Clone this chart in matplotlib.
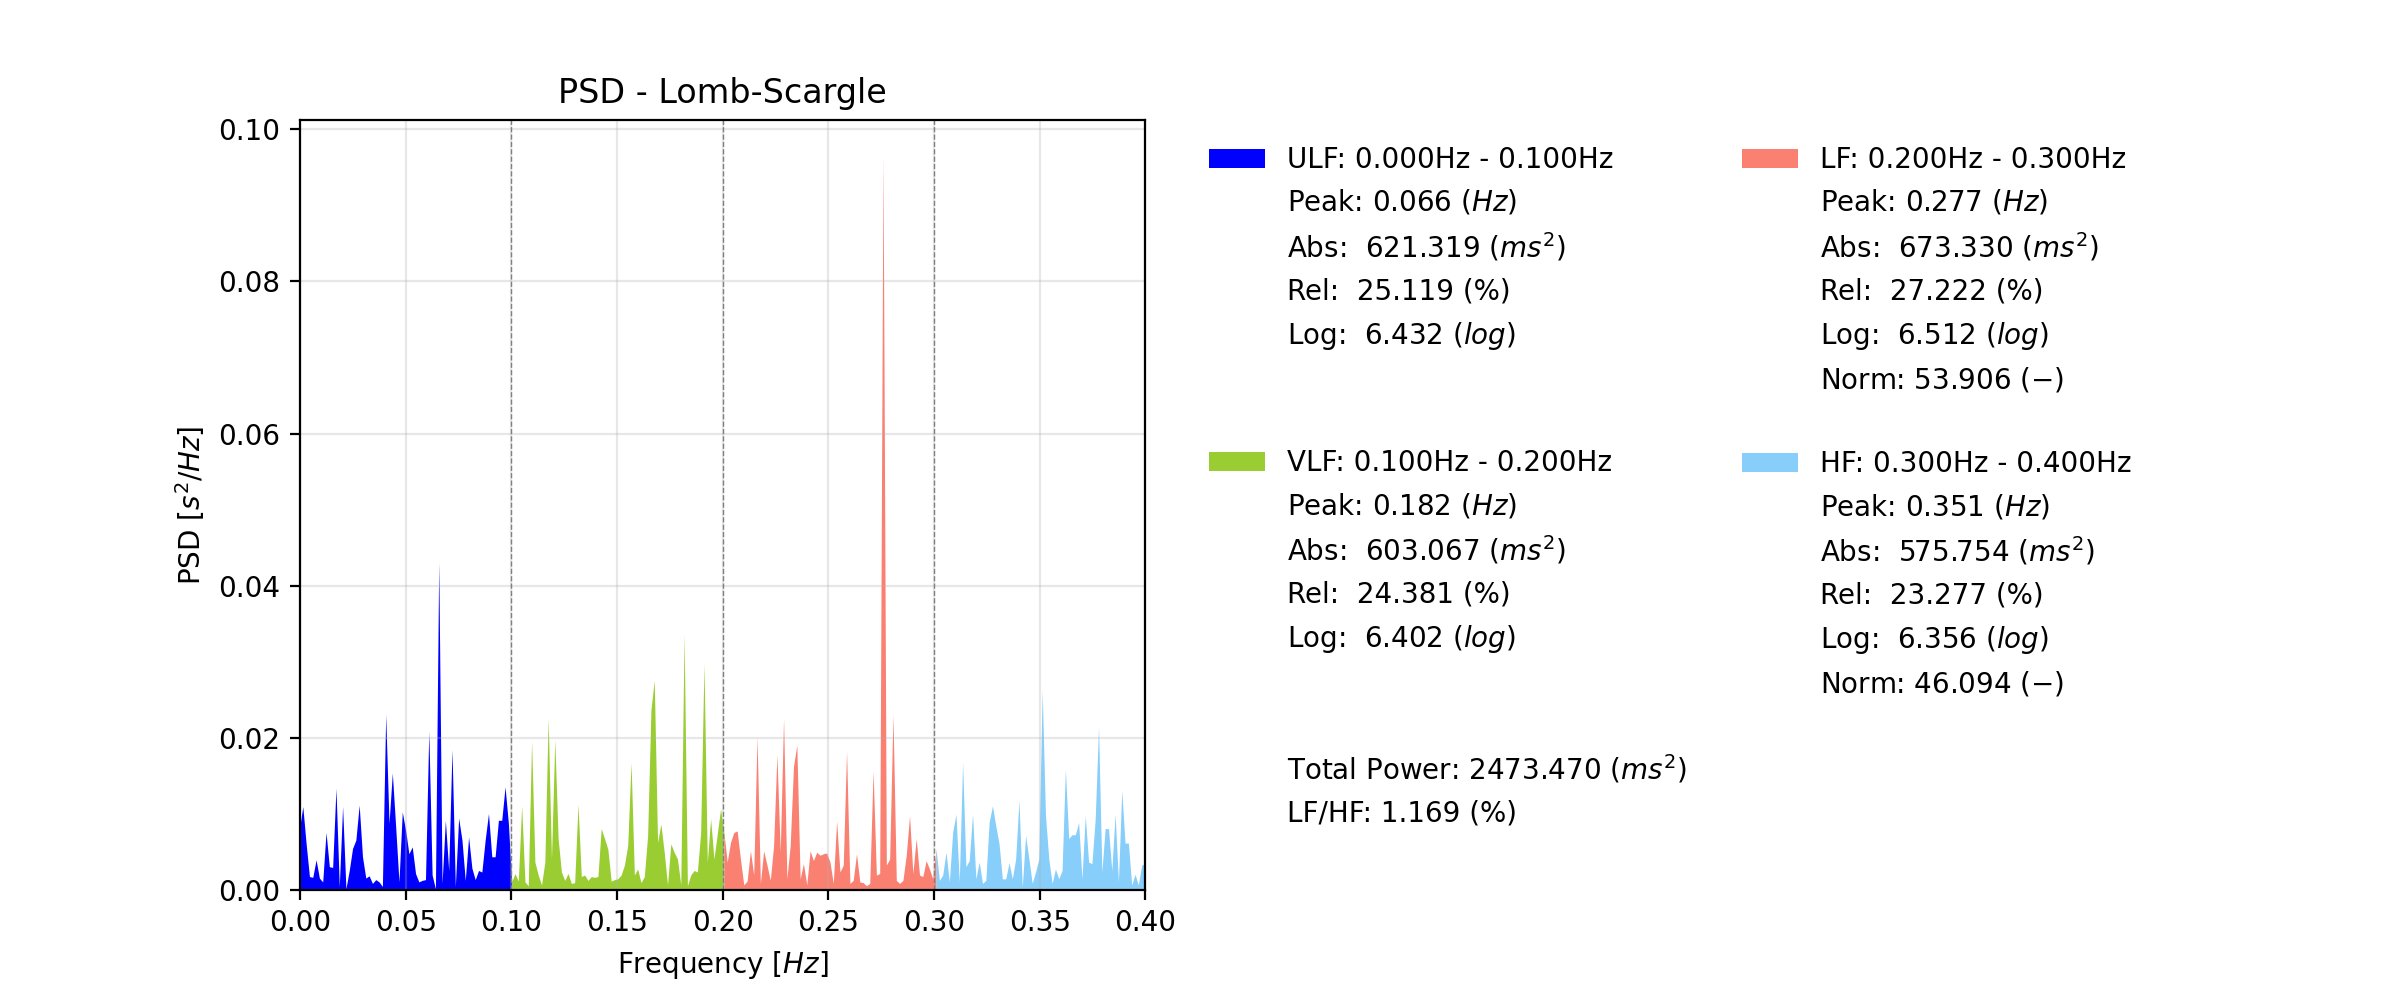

# PSD - Lomb-Scargle plot with frequency bands and band parameters in the legend

import numpy as np
import matplotlib.pyplot as plt
from matplotlib.patches import Patch


#%% 1) Data

# frequency bands
bands = ['ULF', 'VLF', 'LF', 'HF']
band_limits = [(0.0, 0.1), (0.1, 0.2), (0.2, 0.3), (0.3, 0.4)]
band_colors = ['b', 'yellowgreen', 'salmon', 'lightskyblue']

# number of frequency samples between 0 and 0.4 Hz
n_freq = 256

# PSD values (s^2/Hz), 64 samples per band
ulf_psd = [0.0080, 0.0109, 0.0060, 0.0017, 0.0016, 0.0039, 0.0015, 0.0010, 0.0075, 0.0030,
           0.0029, 0.0133, 0.0004, 0.0109, 0.0001, 0.0025, 0.0054, 0.0065, 0.0111, 0.0043,
           0.0015, 0.0018, 0.0008, 0.0013, 0.0010, 0.0004, 0.0230, 0.0087, 0.0153, 0.0083,
           0.0010, 0.0102, 0.0078, 0.0047, 0.0056, 0.0021, 0.0010, 0.0012, 0.0013, 0.0208,
           0.0019, 0.0001, 0.0430, 0.0008, 0.0091, 0.0025, 0.0184, 0.0004, 0.0094, 0.0065,
           0.0012, 0.0069, 0.0028, 0.0013, 0.0025, 0.0023, 0.0065, 0.0100, 0.0043, 0.0043,
           0.0091, 0.0091, 0.0135, 0.0087]
vlf_psd = [0.0010, 0.0021, 0.0011, 0.0110, 0.0010, 0.0005, 0.0195, 0.0036, 0.0019, 0.0006,
           0.0036, 0.0225, 0.0040, 0.0197, 0.0067, 0.0023, 0.0012, 0.0021, 0.0008, 0.0009,
           0.0112, 0.0017, 0.0019, 0.0012, 0.0017, 0.0016, 0.0017, 0.0080, 0.0067, 0.0053,
           0.0011, 0.0013, 0.0014, 0.0019, 0.0032, 0.0058, 0.0167, 0.0019, 0.0027, 0.0009,
           0.0017, 0.0071, 0.0236, 0.0275, 0.0062, 0.0086, 0.0049, 0.0006, 0.0060, 0.0049,
           0.0040, 0.0006, 0.0336, 0.0005, 0.0019, 0.0025, 0.0023, 0.0075, 0.0297, 0.0036,
           0.0093, 0.0040, 0.0073, 0.0106]
lf_psd = [0.0075, 0.0036, 0.0062, 0.0075, 0.0077, 0.0040, 0.0006, 0.0011, 0.0051, 0.0019,
          0.0201, 0.0008, 0.0051, 0.0032, 0.0012, 0.0058, 0.0177, 0.0049, 0.0225, 0.0014,
          0.0058, 0.0162, 0.0190, 0.0014, 0.0034, 0.0006, 0.0051, 0.0038, 0.0049, 0.0045,
          0.0047, 0.0048, 0.0036, 0.0008, 0.0090, 0.0023, 0.0032, 0.0182, 0.0008, 0.0012,
          0.0047, 0.0010, 0.0009, 0.0005, 0.0008, 0.0156, 0.0019, 0.0021, 0.0964, 0.0032,
          0.0040, 0.0230, 0.0012, 0.0008, 0.0012, 0.0045, 0.0097, 0.0021, 0.0067, 0.0019,
          0.0017, 0.0038, 0.0027, 0.0014]
hf_psd = [0.0053, 0.0012, 0.0019, 0.0049, 0.0010, 0.0075, 0.0099, 0.0010, 0.0167, 0.0030,
          0.0038, 0.0099, 0.0014, 0.0036, 0.0008, 0.0012, 0.0088, 0.0110, 0.0084, 0.0060,
          0.0014, 0.0014, 0.0035, 0.0014, 0.0040, 0.0117, 0.0003, 0.0071, 0.0040, 0.0008,
          0.0023, 0.0040, 0.0262, 0.0097, 0.0040, 0.0008, 0.0027, 0.0014, 0.0025, 0.0158,
          0.0067, 0.0072, 0.0072, 0.0088, 0.0014, 0.0097, 0.0036, 0.0034, 0.0093, 0.0214,
          0.0023, 0.0080, 0.0080, 0.0025, 0.0099, 0.0010, 0.0130, 0.0061, 0.0061, 0.0006,
          0.0020, 0.0006, 0.0032, 0.0034]

# band parameters shown in the legend
peak_hz = [0.066, 0.182, 0.277, 0.351]
abs_ms2 = [621.319, 603.067, 673.330, 575.754]
rel_pct = [25.119, 24.381, 27.222, 23.277]
log_pow = [6.432, 6.402, 6.512, 6.356]
norm_lf = 53.906
norm_hf = 46.094
total_power = 2473.470
lf_hf = 1.169


#%% 2) Arrange the data

freq = np.linspace(0, 0.4, n_freq)
psd_bands = [ulf_psd, vlf_psd, lf_psd, hf_psd]
power = np.concatenate([np.array(p) for p in psd_bands])


#%% 3) Plot

fig = plt.figure(figsize=(12, 5), dpi=200)
ax = fig.add_subplot(121)

# fill each band, adding the first sample of the next band to close the gap
start = 0
for k, band in enumerate(bands):
    stop = start + len(psd_bands[k])
    end = min(stop + 1, len(freq))
    ax.fill_between(freq[start:end], power[start:end], facecolor=band_colors[k])
    start = stop

# band borders
ymax = power.max() * 1.05
ax.vlines([lim[0] for lim in band_limits[1:]], 0, ymax, linestyles='--',
          linewidth=0.5, colors='grey')

ax.set_xlim(0, 0.4)
ax.set_ylim(0, ymax)
ax.set_xticks(np.arange(0, 0.41, 0.05))
ax.grid(alpha=0.3)
ax.set_title('PSD - Lomb-Scargle')
ax.set_xlabel('Frequency [$Hz$]')
ax.set_ylabel('PSD [$s^2/Hz$]')


#%% 4) Legend with band parameters

blank = Patch(facecolor='none', edgecolor='none')

def band_entries(k):
    lo, hi = band_limits[k]
    h = [Patch(facecolor=band_colors[k]), blank, blank, blank, blank]
    l = ['%s: %.3fHz - %.3fHz' % (bands[k], lo, hi),
         'Peak: %.3f ($Hz$)' % peak_hz[k],
         'Abs:  %.3f ($ms^2$)' % abs_ms2[k],
         'Rel:  %.3f (%%)' % rel_pct[k],
         'Log:  %.3f ($log$)' % log_pow[k]]
    return h, l

# first column: ULF, VLF, totals / second column: LF, HF
h_ulf, l_ulf = band_entries(0)
h_vlf, l_vlf = band_entries(1)
h_lf, l_lf = band_entries(2)
h_hf, l_hf = band_entries(3)

handles = (h_ulf + [blank, blank] + h_vlf + [blank, blank] + [blank, blank]
           + h_lf + [blank, blank] + h_hf + [blank, blank] + [blank, blank])
labels = (l_ulf + ['', ''] + l_vlf + ['', '']
          + ['Total Power: %.3f ($ms^2$)' % total_power, 'LF/HF: %.3f (%%)' % lf_hf]
          + l_lf + ['Norm: %.3f ($-$)' % norm_lf, ''] + l_hf
          + ['Norm: %.3f ($-$)' % norm_hf, ''] + ['', ''])

fig.legend(handles, labels, ncol=2, loc='upper left', bbox_to_anchor=(0.4992, 0.865),
           borderaxespad=0, frameon=False)

plt.savefig('out.png', dpi=200)
